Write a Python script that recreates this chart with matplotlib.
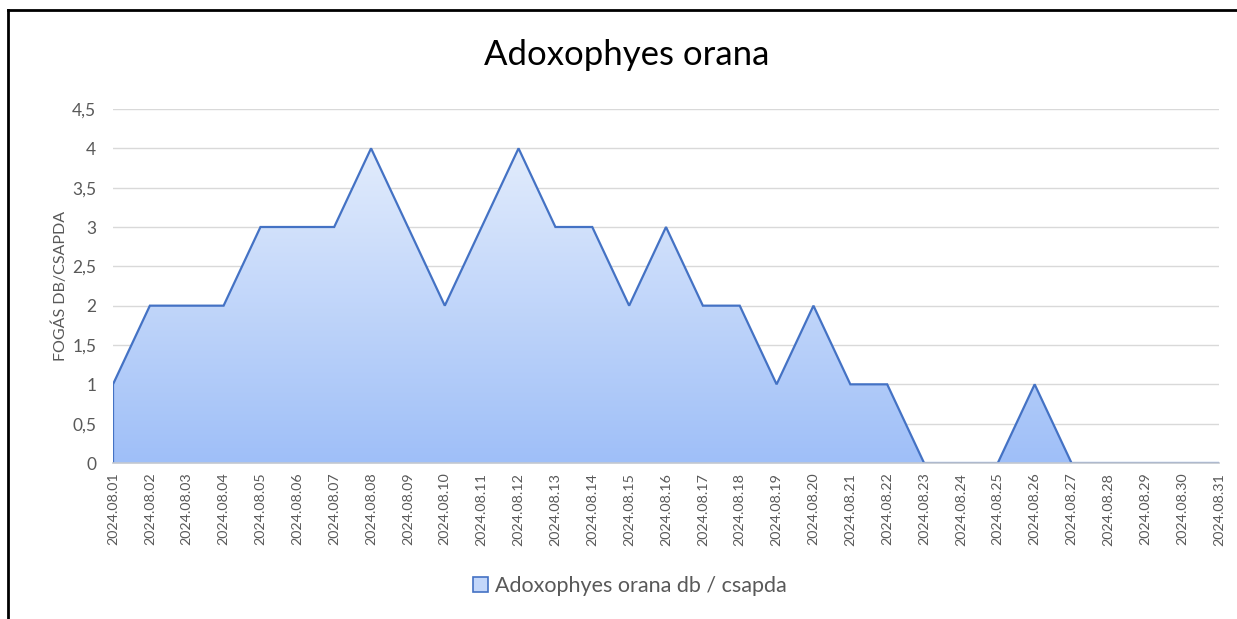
import matplotlib
matplotlib.use("Agg")
import matplotlib.pyplot as plt
import numpy as np
from matplotlib.colors import LinearSegmentedColormap
from matplotlib.patches import Patch
from matplotlib.lines import Line2D

dates = [f"2024.08.{d:02d}" for d in range(1, 32)]
values = [1, 2, 2, 2, 3, 3, 3, 4, 3, 2, 3, 4, 3, 3, 2, 3, 2, 2, 1, 2, 1, 1,
          0, 0, 0, 1, 0, 0, 0, 0, 0]
yticks = [0, 0.5, 1, 1.5, 2, 2.5, 3, 3.5, 4, 4.5]
ytick_labels = ["0", "0,5", "1", "1,5", "2", "2,5", "3", "3,5", "4", "4,5"]

plt.rcParams['font.family'] = ['Lato', 'DejaVu Sans']
W, H = 1237, 619
fig = plt.figure(figsize=(W / 100, H / 100), dpi=100)
ax = fig.add_axes([113 / W, 156 / H, (1219 - 113) / W, (510 - 156) / H])

x = np.arange(len(values))
poly = ax.fill_between(x, values, 0, facecolor='none', edgecolor='none', zorder=2)
cmap = LinearSegmentedColormap.from_list('g', ['#9fbff8', '#e2ecfc'])
grad = np.linspace(0, 1, 256).reshape(-1, 1)
im = ax.imshow(grad, cmap=cmap, origin='lower', aspect='auto',
               extent=[0, len(values) - 1, 0, max(values)], zorder=2)
path = poly.get_paths()[0]
im.set_clip_path(path, transform=ax.transData)
ax.plot(np.concatenate([[0], x]), np.concatenate([[0], values]),
        color='#4472c4', lw=1.6, zorder=3, solid_joinstyle='miter')

ax.set_xlim(0, len(values) - 1)
ax.set_ylim(0, 4.5)
ax.set_yticks(yticks)
ax.set_yticklabels(ytick_labels, color='#595959', fontsize=12.5)
ax.set_xticks(x)
ax.set_xticklabels(dates, rotation=90, color='#595959', fontsize=10.3)
ax.tick_params(axis='y', length=0, pad=12)
ax.tick_params(axis='x', length=0, pad=7)
ax.grid(axis='y', color='#d9d9d9', lw=1, zorder=0)
ax.set_axisbelow(True)
for s in ['top', 'right', 'left']:
    ax.spines[s].set_visible(False)
ax.spines['bottom'].set_color('#c4c8d0')
ax.spines['bottom'].set_linewidth(1.2)
ax.spines['bottom'].set_zorder(4)
ax.set_ylabel('FOGÁS DB/CSAPDA', color='#595959', fontsize=11.5, labelpad=3)

fig.text(627 / W, 1 - 55 / H, 'Adoxophyes orana', ha='center', va='center',
         fontsize=25, color='#000000')

handle = Patch(facecolor='#c3d7fa', edgecolor='#4472c4', lw=1.2)
fig.legend([handle], ['Adoxophyes orana db / csapda'], loc='center',
           bbox_to_anchor=(630 / W, 1 - 586 / H), frameon=False,
           fontsize=15.5, labelcolor='#595959', handlelength=0.7,
           handleheight=0.7, handletextpad=0.3)

fig.add_artist(Line2D([8 / W, 8 / W], [0, 1 - 10 / H], transform=fig.transFigure,
                      color='black', lw=2))
fig.add_artist(Line2D([8 / W, 1], [1 - 10 / H, 1 - 10 / H], transform=fig.transFigure,
                      color='black', lw=2))

fig.savefig('out.png', dpi=100)
